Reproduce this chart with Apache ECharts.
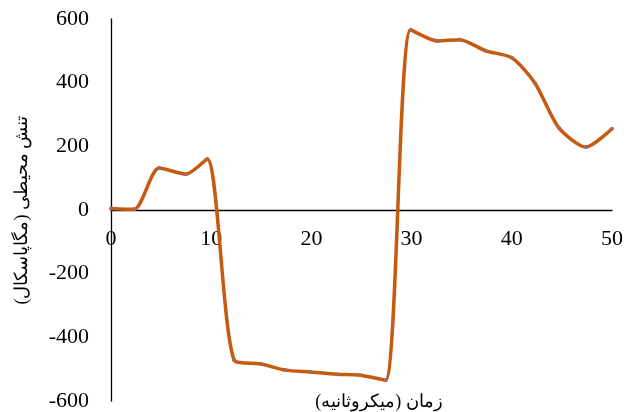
<!DOCTYPE html>
<html>
<head>
<meta charset="utf-8">
<script src="https://cdn.jsdelivr.net/npm/echarts@6/dist/echarts.min.js"></script>
<style>html,body{margin:0;padding:0;background:#fff}#c{width:636px;height:412px}</style>
</head>
<body>
<div id="c"></div>
<script>
const timeValues = [0, 2.3, 4.8, 7.5, 9.6, 12.3, 15, 17.4, 19.9, 22.5, 24.9, 27.4, 29.9, 32.6, 34.8, 37.4, 40, 42.3, 44.7, 47.4, 50];
const stressValues = [5, 2, 132, 113, 160, -472, -484, -503, -509, -516, -519, -535, 566, 531, 535, 500, 478, 399, 258, 198, 255];
const xTicks = [0, 10, 20, 30, 40, 50];
const yTicks = [-600, -400, -200, 0, 200, 400, 600];
const xName = 'زمان (میکروثانیه)';
const yName = 'تنش محیطی (مگاپاسکال)';

const font = "'Liberation Serif','Times New Roman',serif";
const chart = echarts.init(document.getElementById('c'));
chart.setOption({
  animation: false,
  title: {
    text: xName, left: 374, top: 388, textAlign: 'center',
    textStyle: {color: '#000', fontFamily: font, fontSize: 18, fontWeight: 'normal'}
  },
  grid: {left: 111, right: 24, top: 19, bottom: 11, outerBoundsMode: 'none'},
  xAxis: {
    type: 'value', min: xTicks[0], max: xTicks[xTicks.length-1], interval: 10,
    position: 'bottom', offset: -191,
    axisLine: {onZero: false, lineStyle: {color: '#000', width: 1.3}},
    axisTick: {show: false}, splitLine: {show: false},
    axisLabel: {show: true, color: '#000', fontFamily: font, fontSize: 22, margin: 18}
  },
  yAxis: {
    type: 'value', min: yTicks[0], max: yTicks[yTicks.length-1], interval: 200,
    axisLine: {show: true, lineStyle: {color: '#000', width: 1.3}},
    axisTick: {show: false}, splitLine: {show: false},
    axisLabel: {color: '#000', fontFamily: font, fontSize: 22, margin: 22},
    name: yName, nameLocation: 'middle', nameGap: 80,
    nameTextStyle: {color: '#000', fontFamily: font, fontSize: 18}
  },
  series: [{
    type: 'line',
    data: timeValues.map((t, i) => [t, stressValues[i]]),
    smooth: 0.25,
    symbol: 'circle', symbolSize: 4, showSymbol: true,
    lineStyle: {color: '#C55A11', width: 3.5},
    itemStyle: {color: '#a9694a'}
  }]
});
</script>
</body>
</html>
